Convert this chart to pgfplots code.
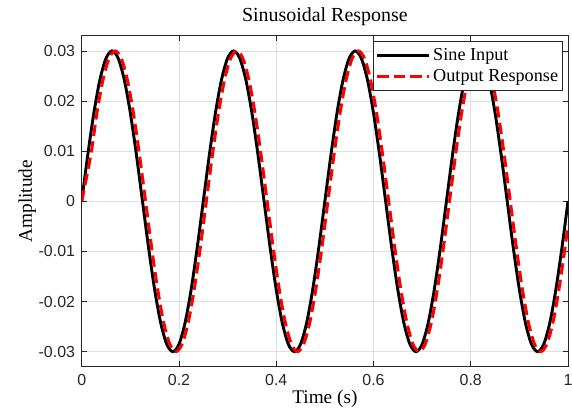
\documentclass[border=0pt]{standalone}
\usepackage{fontspec}
\setmainfont{Liberation Serif}
\newfontfamily\ticksf{Liberation Sans}
\usepackage{pgfplots}
\pgfplotsset{compat=1.18}
\usepackage{pgfplotstable}
\usetikzlibrary{calc}

\definecolor{axgray}{RGB}{38,38,38}
\definecolor{gridgray}{RGB}{223,223,223}

% sine input, 4 Hz, sampled every 0.0125 s
\pgfplotstableread{
t y
0 0
0.0125 0.00927
0.025 0.01763
0.0375 0.02427
0.05 0.02853
0.0625 0.03
0.075 0.02853
0.0875 0.02427
0.1 0.01763
0.1125 0.00927
0.125 0
0.1375 -0.00927
0.15 -0.01763
0.1625 -0.02427
0.175 -0.02853
0.1875 -0.03
0.2 -0.02853
0.2125 -0.02427
0.225 -0.01763
0.2375 -0.00927
0.25 0
0.2625 0.00927
0.275 0.01763
0.2875 0.02427
0.3 0.02853
0.3125 0.03
0.325 0.02853
0.3375 0.02427
0.35 0.01763
0.3625 0.00927
0.375 0
0.3875 -0.00927
0.4 -0.01763
0.4125 -0.02427
0.425 -0.02853
0.4375 -0.03
0.45 -0.02853
0.4625 -0.02427
0.475 -0.01763
0.4875 -0.00927
0.5 0
0.5125 0.00927
0.525 0.01763
0.5375 0.02427
0.55 0.02853
0.5625 0.03
0.575 0.02853
0.5875 0.02427
0.6 0.01763
0.6125 0.00927
0.625 0
0.6375 -0.00927
0.65 -0.01763
0.6625 -0.02427
0.675 -0.02853
0.6875 -0.03
0.7 -0.02853
0.7125 -0.02427
0.725 -0.01763
0.7375 -0.00927
0.75 0
0.7625 0.00927
0.775 0.01763
0.7875 0.02427
0.8 0.02853
0.8125 0.03
0.825 0.02853
0.8375 0.02427
0.85 0.01763
0.8625 0.00927
0.875 0
0.8875 -0.00927
0.9 -0.01763
0.9125 -0.02427
0.925 -0.02853
0.9375 -0.03
0.95 -0.02853
0.9625 -0.02427
0.975 -0.01763
0.9875 -0.00927
1 0
}\sineinput

% output response, lags the input by about 0.00625 s
\pgfplotstableread{
t y
0 0
0.01875 0.00927
0.03125 0.01763
0.04375 0.02427
0.05625 0.02853
0.06875 0.03
0.08125 0.02853
0.09375 0.02427
0.10625 0.01763
0.11875 0.00927
0.13125 0
0.14375 -0.00927
0.15625 -0.01763
0.16875 -0.02427
0.18125 -0.02853
0.19375 -0.03
0.20625 -0.02853
0.21875 -0.02427
0.23125 -0.01763
0.24375 -0.00927
0.25625 0
0.26875 0.00927
0.28125 0.01763
0.29375 0.02427
0.30625 0.02853
0.31875 0.03
0.33125 0.02853
0.34375 0.02427
0.35625 0.01763
0.36875 0.00927
0.38125 0
0.39375 -0.00927
0.40625 -0.01763
0.41875 -0.02427
0.43125 -0.02853
0.44375 -0.03
0.45625 -0.02853
0.46875 -0.02427
0.48125 -0.01763
0.49375 -0.00927
0.50625 0
0.51875 0.00927
0.53125 0.01763
0.54375 0.02427
0.55625 0.02853
0.56875 0.03
0.58125 0.02853
0.59375 0.02427
0.60625 0.01763
0.61875 0.00927
0.63125 0
0.64375 -0.00927
0.65625 -0.01763
0.66875 -0.02427
0.68125 -0.02853
0.69375 -0.03
0.70625 -0.02853
0.71875 -0.02427
0.73125 -0.01763
0.74375 -0.00927
0.75625 0
0.76875 0.00927
0.78125 0.01763
0.79375 0.02427
0.80625 0.02853
0.81875 0.03
0.83125 0.02853
0.84375 0.02427
0.85625 0.01763
0.86875 0.00927
0.88125 0
0.89375 -0.00927
0.90625 -0.01763
0.91875 -0.02427
0.93125 -0.02853
0.94375 -0.03
0.95625 -0.02853
0.96875 -0.02427
0.98125 -0.01763
0.99375 -0.00927
1 -0.00469
}\outputresp

\begin{document}
\begin{tikzpicture}
\begin{axis}[
  name=ax,
  scale only axis,
  width=366pt, height=249pt,
  xmin=0, xmax=1,
  ymin=-0.033, ymax=0.033,
  xtick={0,0.2,0.4,0.6,0.8,1},
  xticklabels={0,0.2,0.4,0.6,0.8,1},
  ytick={-0.03,-0.02,-0.01,0,0.01,0.02,0.03},
  yticklabels={-0.03,-0.02,-0.01,0,0.01,0.02,0.03},
  scaled y ticks=false, scaled x ticks=false,
  tick align=inside, tick pos=both,
  major tick length=4pt,
  tick style={axgray, line width=0.5pt},
  axis line style={axgray, line width=0.6pt},
  grid=major, grid style={gridgray, line width=0.5pt},
  tick label style={font=\ticksf\fontsize{12}{14}\selectfont, text=axgray},
  xticklabel style={yshift=-2pt},
  yticklabel style={xshift=-1.5pt},
  title={Sinusoidal Response},
  every axis title shift=0pt,
  title style={font=\fontsize{15}{17}\selectfont,
    at={(axis description cs:0.5,1)}, anchor=base, yshift=10.5pt},
  xlabel={Time (s)},
  ylabel={Amplitude},
  label style={font=\fontsize{14.5}{16}\selectfont},
  xlabel style={at={(axis description cs:0.5,-0.096)}, anchor=center},
  ylabel style={at={(axis description cs:-0.112,0.5)}, anchor=center},
  legend cell align=left,
  legend style={at={(0.99,0.985)}, anchor=north east,
    draw=axgray, line width=0.6pt,
    font=\fontsize{13.7}{15}\selectfont,
    inner xsep=1.5pt, inner ysep=3.5pt, row sep=1pt},
  legend image code/.code={
    \draw[#1] (0cm,0cm) -- (1.37cm,0cm);
  },
]
\addplot[black, line width=2.2pt, smooth] table[x=t, y=y] {\sineinput};
\addlegendentry{Sine Input}
\addplot[red, line width=2.3pt, dash pattern=on 8.5pt off 4pt, smooth] table[x=t, y=y] {\outputresp};
\addlegendentry{Output Response}
\end{axis}
\pgfresetboundingbox
\path[use as bounding box] ($(ax.south west)+(-61.5pt,-33pt)$) rectangle ($(ax.north east)+(3pt,27pt)$);
\end{tikzpicture}
\end{document}
